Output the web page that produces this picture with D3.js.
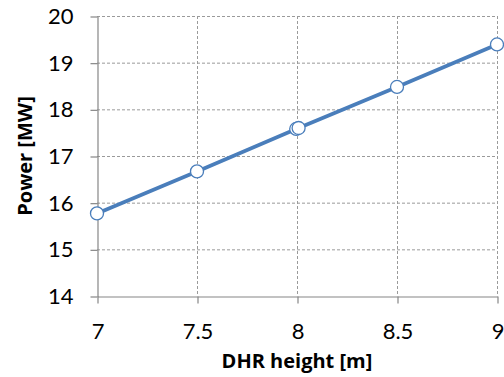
<!DOCTYPE html>
<html><head><meta charset="utf-8">
<script src="https://cdn.jsdelivr.net/npm/d3@7"></script>
<style>
html,body{margin:0;padding:0;background:#fff;}
svg{display:block;}
</style></head>
<body>
<script>
const xValues = [7, 7.5, 7.996, 8.008, 8.5, 9];
const powerValues = [15.77, 16.67, 17.58, 17.6, 18.48, 19.39];
const xTicks = [7, 7.5, 8, 8.5, 9];
const yTicks = [14, 15, 16, 17, 18, 19, 20];
const xTitle = "DHR height [m]";
const yTitle = "Power [MW]";

const W = 504, H = 377;
const svg = d3.select("body").append("svg").attr("width", W).attr("height", H);
const x = d3.scaleLinear().domain([7, 9]).range([97, 497]);
const y = d3.scaleLinear().domain([14, 20]).range([296, 16]);
const gridColor = "#9a9a9a", axisColor = "#868686";

// gridlines
svg.append("g").selectAll("line").data(yTicks.filter(d => d > 14)).join("line")
  .attr("x1", x(7)).attr("x2", x(9)).attr("y1", d => y(d) + 0.5).attr("y2", d => y(d) + 0.5)
  .attr("stroke", gridColor).attr("stroke-width", 1).attr("stroke-dasharray", "3,2");
svg.append("g").selectAll("line").data(xTicks.filter(d => d > 7)).join("line")
  .attr("x1", d => x(d) + 0.5).attr("x2", d => x(d) + 0.5).attr("y1", y(20)).attr("y2", y(14))
  .attr("stroke", gridColor).attr("stroke-width", 1).attr("stroke-dasharray", "3,2");

// axes
const yAxis = svg.append("g").attr("transform", `translate(${x(7) + 0.5},0.5)`)
  .call(d3.axisLeft(y).tickValues(yTicks).tickSize(7).tickSizeOuter(0).tickPadding(17).tickFormat(d3.format("d")));
const xAxis = svg.append("g").attr("transform", `translate(0.5,${y(14) + 0.5})`)
  .call(d3.axisBottom(x).tickValues(xTicks).tickSize(7).tickSizeOuter(0).tickPadding(20).tickFormat(d => String(d)));
[yAxis, xAxis].forEach(a => {
  a.select(".domain").attr("stroke", axisColor).attr("stroke-width", 1.2);
  a.selectAll(".tick line").attr("stroke", axisColor).attr("stroke-width", 1.2);
  a.selectAll("text").style("font-size", "22px").style("font-family", "Lato").attr("fill", "#000");
});

// line
const line = d3.line().x((d, i) => x(xValues[i])).y(d => y(d));
svg.append("path").datum(powerValues).attr("d", line)
  .attr("fill", "none").attr("stroke", "#4a7ebb").attr("stroke-width", 3.8).attr("stroke-linejoin", "round");
svg.append("g").selectAll("circle").data(powerValues).join("circle")
  .attr("cx", (d, i) => x(xValues[i])).attr("cy", d => y(d)).attr("r", 6.5)
  .attr("fill", "#fff").attr("stroke", "#4a7ebb").attr("stroke-width", 1.3);

// titles
svg.append("text").attr("x", 297).attr("y", 368).attr("text-anchor", "middle")
  .style("font-size", "20px").style("font-weight", "bold").style("font-family", "'Open Sans'").attr("fill", "#000").text(xTitle);
svg.append("text").attr("transform", `translate(32,${(y(14) + y(20)) / 2}) rotate(-90)`)
  .attr("text-anchor", "middle").style("font-size", "20px").style("font-weight", "bold").style("font-family", "'Open Sans'").attr("fill", "#000").text(yTitle);
</script>
</body></html>
